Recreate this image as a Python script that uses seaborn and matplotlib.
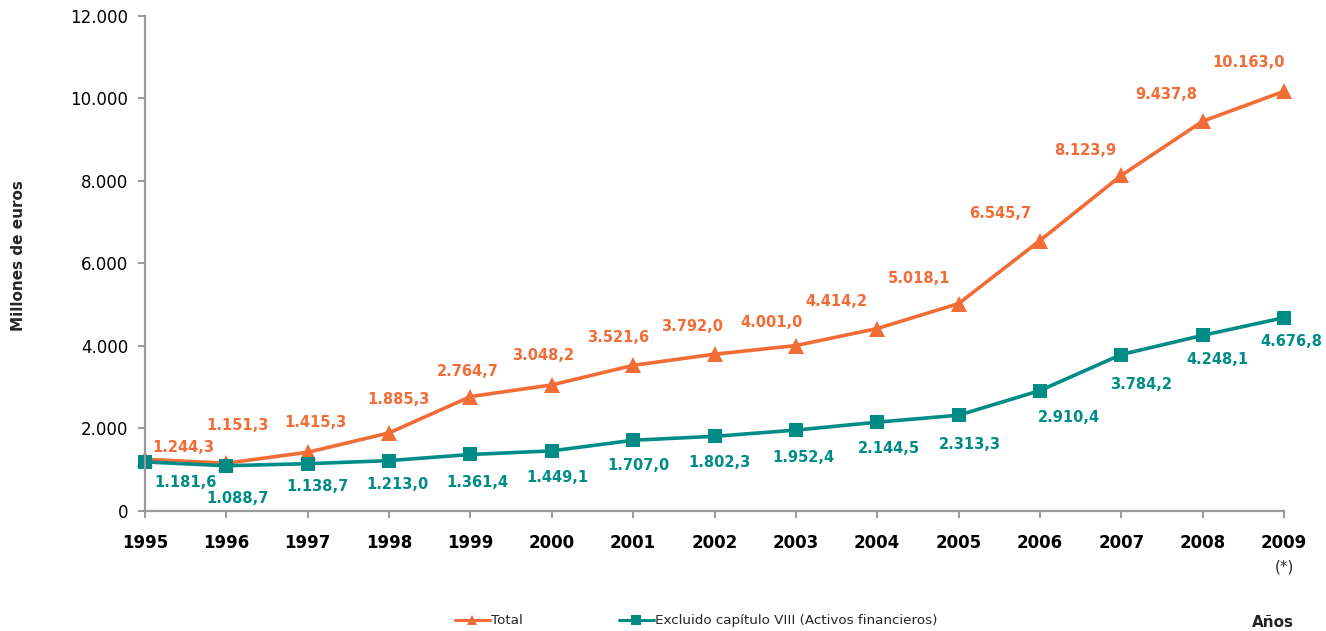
import matplotlib
matplotlib.use("Agg")
import matplotlib.pyplot as plt
import seaborn as sns
import pandas as pd
from matplotlib.lines import Line2D

years = [1995, 1996, 1997, 1998, 1999, 2000, 2001, 2002, 2003, 2004, 2005, 2006, 2007, 2008, 2009]
total = [1244.3, 1151.3, 1415.3, 1885.3, 2764.7, 3048.2, 3521.6, 3792.0, 4001.0, 4414.2,
         5018.1, 6545.7, 8123.9, 9437.8, 10163.0]
excluido = [1181.6, 1088.7, 1138.7, 1213.0, 1361.4, 1449.1, 1707.0, 1802.3, 1952.4, 2144.5,
            2313.3, 2910.4, 3784.2, 4248.1, 4676.8]
year_labels = ["1995", "1996", "1997", "1998", "1999", "2000", "2001", "2002", "2003", "2004",
               "2005", "2006", "2007", "2008", "2009"]
series_names = ["Total", "Excluido capítulo VIII (Activos financieros)"]
yticks = [0, 2000, 4000, 6000, 8000, 10000, 12000]

# label offsets in pixels (styling only)
total_off = [(38, 12), (11, 38), (8, 30), (9, 33), (-3, 25), (-9, 29), (-15, 28), (-22, 28),
             (-24, 23), (-41, 27), (-40, 25), (-40, 27), (-36, 25), (-36, 27), (-35, 29)]
excl_off = [(40, -21), (11, -33), (10, -23), (8, -24), (7, -28), (6, -27), (5, -25), (5, -26),
            (8, -27), (12, -26), (11, -29), (29, -27), (20, -30), (15, -24), (7, -24)]

ORANGE = "#F26C36"
TEAL = "#008C86"
GRAY = "#9A9A9A"


def fmt(v, dec=1):
    s = f"{v:,.{dec}f}"
    return s.replace(",", "X").replace(".", ",").replace("X", ".")


df = pd.DataFrame({
    "year": years * 2,
    "value": total + excluido,
    "serie": [series_names[0]] * len(years) + [series_names[1]] * len(years),
})

sns.set_style("white")
plt.rcParams["font.family"] = ["DejaVu Sans"]

fig = plt.figure(figsize=(13.26, 6.31), dpi=100)
ax = fig.add_axes([0.1094, 0.1907, 0.8589, 0.7847])

sns.lineplot(data=df[df.serie == series_names[0]], x="year", y="value", ax=ax,
             color=ORANGE, marker="^", markersize=11, markeredgewidth=0,
             linewidth=2.6, clip_on=False, legend=False)
sns.lineplot(data=df[df.serie == series_names[1]], x="year", y="value", ax=ax,
             color=TEAL, marker="s", markersize=10, markeredgewidth=0,
             linewidth=2.6, clip_on=False, legend=False)

for x, v, (dx, dy) in zip(years, total, total_off):
    ax.annotate(fmt(v), (x, v), xytext=(dx, dy), textcoords="offset pixels",
                ha="center", va="center", fontsize=10.5, fontweight="bold",
                color=ORANGE, annotation_clip=False)
for x, v, (dx, dy) in zip(years, excluido, excl_off):
    ax.annotate(fmt(v), (x, v), xytext=(dx, dy), textcoords="offset pixels",
                ha="center", va="center", fontsize=10.5, fontweight="bold",
                color=TEAL, annotation_clip=False)

ax.set_xlim(1995, 2009)
ax.set_ylim(0, 12000)
ax.set_xticks(years)
ax.set_xticklabels(year_labels, fontsize=12, fontweight="bold")
ax.set_yticks(yticks)
ax.set_yticklabels([fmt(t, 0) for t in yticks], fontsize=12)
ax.set_xlabel("")
ax.set_ylabel("")
# footnote mark under the last year
ax.annotate("(*)", (years[-1], 0), xytext=(0, -56), textcoords="offset pixels",
            ha="center", va="center", fontsize=11, annotation_clip=False)

for s in ["top", "right"]:
    ax.spines[s].set_visible(False)
for s in ["left", "bottom"]:
    ax.spines[s].set_color(GRAY)
    ax.spines[s].set_linewidth(1.6)
ax.tick_params(axis="both", direction="out", length=5, width=1.4, color=GRAY,
               labelcolor="black", bottom=True, left=True)
ax.tick_params(axis="x", pad=12)
ax.tick_params(axis="y", pad=7)
ax.grid(False)

fig.text(0.0136, 0.595, "Millones de euros", rotation=90, ha="center", va="center",
         fontsize=11, fontweight="bold")
fig.text(0.96, 0.014, "Años", ha="center", va="center", fontsize=11, fontweight="bold")

handles = [
    Line2D([], [], color=ORANGE, marker="^", markersize=7, linewidth=2.2, markeredgewidth=0),
    Line2D([], [], color=TEAL, marker="s", markersize=6.5, linewidth=2.2, markeredgewidth=0),
]
fig.legend(handles, series_names, loc="center", bbox_to_anchor=(0.525, 0.016), ncol=2,
           frameon=False, fontsize=9.7, handlelength=2.6, handletextpad=0.1,
           columnspacing=7.1, borderaxespad=0)

fig.savefig("out.png", dpi=100)
